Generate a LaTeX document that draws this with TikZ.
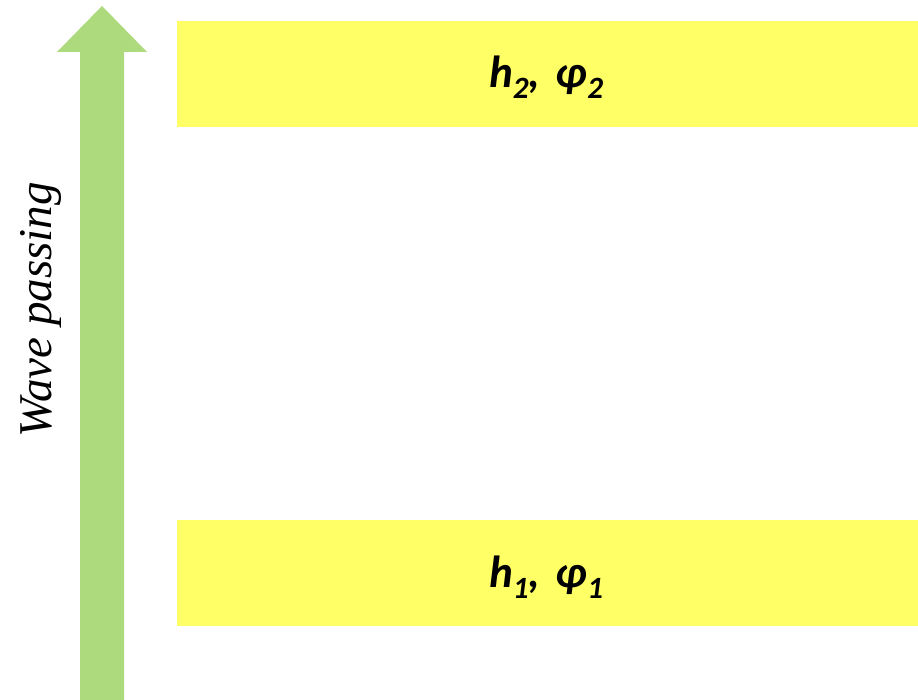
\documentclass[tikz,border=0pt]{standalone}
\usepackage{fontspec}
\newfontfamily\labelfont{Carlito}
\newfontfamily\sidefont{Liberation Serif}
\definecolor{bandyellow}{HTML}{FFFF66}
\definecolor{arrowgreen}{HTML}{AEDA7E}
% subscript in the layer labels
\newcommand{\lsub}[1]{\raisebox{-0.24em}{\fontsize{31}{31}\selectfont #1}}
\begin{document}
\begin{tikzpicture}[x=1pt,y=1pt,
  band/.style={fill=bandyellow, draw=none},
  bandlabel/.style={font=\labelfont\bfseries\itshape\fontsize{45}{54}\selectfont, inner sep=0pt, anchor=base},
  sidelabel/.style={font=\sidefont\itshape\fontsize{47}{56}\selectfont, rotate=90, inner sep=0pt, anchor=base}]
  \useasboundingbox (0,0) rectangle (918,700);
  % upward arrow
  \fill[arrowgreen] (80,0) -- (80,648) -- (57,648) -- (102,694) -- (147,648)
    -- (124,648) -- (124,0) -- cycle;
  % layers
  \path[band] (177,573) rectangle (918,679);
  \path[band] (177,74) rectangle (918,180);
  \node[bandlabel] (top) at (546,612) {h\lsub{2},\kern0.35em φ\lsub{2}};
  \node[bandlabel] (bottom) at (546,112) {h\lsub{1},\kern0.35em φ\lsub{1}};
  \node[sidelabel] (wave) at (51,390) {Wave passing};
\end{tikzpicture}
\end{document}
